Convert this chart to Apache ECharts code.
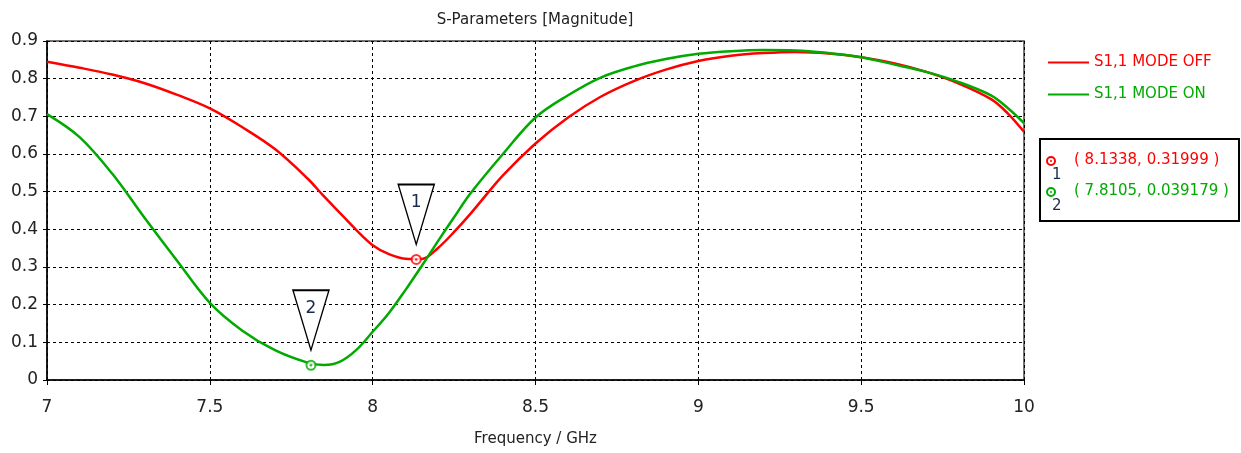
<!DOCTYPE html>
<html>
<head>
<meta charset="utf-8">
<script src="https://cdn.jsdelivr.net/npm/echarts@6/dist/echarts.min.js"></script>
<style>
html,body{margin:0;padding:0;background:#fff;}
#chart{width:1241px;height:453px;}
</style>
</head>
<body>
<div id="chart"></div>
<script>
// Frequency (GHz)
const freq = [7.0,7.1,7.2,7.3,7.4,7.5,7.6,7.7,7.8,7.85,7.9,7.95,8.0,8.05,8.1,8.15,8.2,8.25,8.3,8.4,8.5,8.6,8.7,8.8,8.9,9.0,9.1,9.2,9.3,9.4,9.5,9.6,9.7,9.8,9.9,9.95,10.0];
// S1,1 MODE OFF
const modeOff = [0.845,0.829,0.811,0.788,0.757,0.721,0.671,0.613,0.535,0.488,0.443,0.398,0.358,0.334,0.322,0.321,0.350,0.393,0.441,0.543,0.628,0.697,0.752,0.793,0.824,0.847,0.861,0.868,0.871,0.867,0.857,0.841,0.818,0.787,0.745,0.708,0.659];
// S1,1 MODE ON
const modeOn = [0.706,0.645,0.548,0.430,0.316,0.205,0.131,0.079,0.046,0.040,0.049,0.080,0.128,0.178,0.238,0.302,0.368,0.432,0.495,0.600,0.697,0.756,0.803,0.832,0.852,0.866,0.873,0.876,0.875,0.868,0.857,0.838,0.818,0.791,0.755,0.722,0.682];
const seriesNames = ['S1,1 MODE OFF','S1,1 MODE ON'];
const seriesColors = ['#ff0000','#00aa00'];
// Markers
const markerIds = ['1','2'];
const markerX = [8.1338, 7.8105];
const markerY = [0.31999, 0.039179];
const markerText = ['( 8.1338, 0.31999 )','( 7.8105, 0.039179 )'];
const xTicks = [7,7.5,8,8.5,9,9.5,10];

const FONT = 'DejaVu Sans';
const chart = echarts.init(document.getElementById('chart'));

const tri = 'path://M0,0 L36,0 L18,60 Z';

function markerSeries(i){
  return {
    type:'scatter',
    name:'m'+markerIds[i],
    data:[[markerX[i], markerY[i]]],
    symbol:'emptyCircle',
    symbolSize:9,
    z:5,
    itemStyle:{color:seriesColors[i], borderColor:seriesColors[i], borderWidth:2},
    silent:true,
    markPoint:{
      symbol:tri,
      symbolSize:[36,60],
      symbolOffset:[0,-45],
      itemStyle:{color:'#ffffff', borderColor:'#000000', borderWidth:1.6},
      label:{show:true, formatter:markerIds[i], color:'#1a2a4a', fontFamily:FONT, fontSize:17, offset:[0,-12]},
      data:[{coord:[markerX[i], markerY[i]]}]
    }
  };
}
function dotSeries(i){
  return {
    type:'scatter', data:[[markerX[i], markerY[i]]], symbol:'circle', symbolSize:2.5, z:6,
    itemStyle:{color:seriesColors[i]}, silent:true
  };
}

const option = {
  animation:false,
  backgroundColor:'#ffffff',
  title:{
    text:'S-Parameters [Magnitude]', left:530, top:8, textAlign:'center',
    textStyle:{fontFamily:FONT, fontSize:15, fontWeight:'normal', color:'#222'}
  },
  legend:{
    orient:'vertical', left:1043, top:50, itemWidth:41, itemHeight:14, itemGap:17,
    icon:'path://M0,6 L41,6 L41,8 L0,8 Z',
    textStyle:{fontFamily:FONT, fontSize:15},
    data:[
      {name:seriesNames[0], textStyle:{color:seriesColors[0]}, itemStyle:{color:seriesColors[0]}},
      {name:seriesNames[1], textStyle:{color:seriesColors[1]}, itemStyle:{color:seriesColors[1]}}
    ]
  },
  grid:{left:47, right:217, top:41, bottom:73, show:true, borderColor:'#444', borderWidth:1.5, backgroundColor:'#fff'},
  xAxis:{
    type:'value', min:7, max:10, interval:0.5,
    name:'Frequency / GHz', nameLocation:'middle', nameGap:52,
    nameTextStyle:{fontFamily:FONT, fontSize:15, color:'#222'},
    axisLine:{lineStyle:{color:'#000', width:1.5}},
    axisTick:{show:true, length:5, lineStyle:{color:'#000'}},
    axisLabel:{fontFamily:FONT, fontSize:17, color:'#222', margin:19,
      formatter:v=>xTicks.includes(v)? String(v):''},
    splitLine:{show:true, lineStyle:{color:'#000', type:[3,3], width:1}}
  },
  yAxis:{
    type:'value', min:0, max:0.9, interval:0.1,
    axisLine:{show:true, lineStyle:{color:'#000', width:1.5}},
    axisTick:{show:true, length:4, lineStyle:{color:'#000'}},
    axisLabel:{fontFamily:FONT, fontSize:17, color:'#222', margin:9,
      formatter:v=>String(Math.round(v*10)/10)},
    splitLine:{show:true, lineStyle:{color:'#000', type:[3,3], width:1}}
  },
  series:[
    {name:seriesNames[0], type:'line', data:freq.map((f,k)=>[f, modeOff[k]]), smooth:0.35, showSymbol:false,
      lineStyle:{color:seriesColors[0], width:2.5}, itemStyle:{color:seriesColors[0]}},
    {name:seriesNames[1], type:'line', data:freq.map((f,k)=>[f, modeOn[k]]), smooth:0.35, showSymbol:false,
      lineStyle:{color:seriesColors[1], width:2.5}, itemStyle:{color:seriesColors[1]}},
    markerSeries(0), markerSeries(1), dotSeries(0), dotSeries(1)
  ],
  graphic:[
    {type:'rect', shape:{x:1040, y:139, width:199, height:82}, style:{fill:'#fff', stroke:'#000', lineWidth:2}},
    {type:'circle', shape:{cx:1051, cy:161, r:4}, style:{fill:'none', stroke:seriesColors[0], lineWidth:2}},
    {type:'circle', shape:{cx:1051, cy:161, r:1}, style:{fill:seriesColors[0]}},
    {type:'text', x:1052, y:168, style:{text:markerIds[0], fill:'#1a2a4a', font:'15px "DejaVu Sans"'}},
    {type:'text', x:1074, y:153, style:{text:markerText[0], fill:seriesColors[0], font:'15px "DejaVu Sans"'}},
    {type:'circle', shape:{cx:1051, cy:192, r:4}, style:{fill:'none', stroke:seriesColors[1], lineWidth:2}},
    {type:'circle', shape:{cx:1051, cy:192, r:1}, style:{fill:seriesColors[1]}},
    {type:'text', x:1052, y:199, style:{text:markerIds[1], fill:'#1a2a4a', font:'15px "DejaVu Sans"'}},
    {type:'text', x:1074, y:184, style:{text:markerText[1], fill:seriesColors[1], font:'15px "DejaVu Sans"'}}
  ]
};
chart.setOption(option);
</script>
</body>
</html>
